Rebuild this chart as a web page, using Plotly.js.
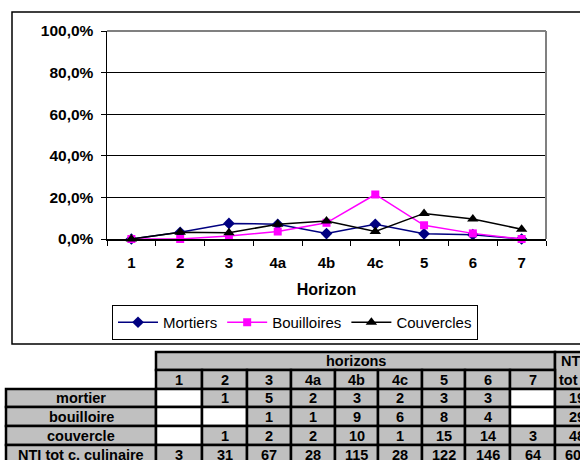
<!DOCTYPE html>
<html>
<head>
<meta charset="utf-8">
<script src="https://cdn.plot.ly/plotly-3.0.1.min.js"></script>
<style>html,body{margin:0;padding:0;background:#fff;}#chart{width:580px;height:460px;}</style>
</head>
<body>
<div id="chart"></div>
<script>
// ---- data ----
const categories = ['1', '2', '3', '4a', '4b', '4c', '5', '6', '7'];
const mortiersPct = [0, 0.032, 0.075, 0.071, 0.026, 0.071, 0.025, 0.021, 0];
const bouilloiresPct = [0, 0, 0.015, 0.036, 0.078, 0.214, 0.066, 0.027, 0];
const couverclesPct = [0, 0.032, 0.030, 0.071, 0.087, 0.036, 0.123, 0.096, 0.047];
const seriesNames = ['Mortiers', 'Bouilloires', 'Couvercles'];

const tableGroupHeader = 'horizons';
const tableTotalHeader = ['NTI', 'tot'];
const rowLabels = ['mortier', 'bouilloire', 'couvercle', 'NTI tot c. culinaire'];
const mortierCounts = [null, 1, 5, 2, 3, 2, 3, 3, null];
const bouilloireCounts = [null, null, 1, 1, 9, 6, 8, 4, null];
const couvercleCounts = [null, 1, 2, 2, 10, 1, 15, 14, 3];
const ntiCounts = [3, 31, 67, 28, 115, 28, 122, 146, 64];
const rowTotals = [19, 29, 48, 604];

// ---- geometry helpers (pixel -> paper) ----
const L = 107, R = 546, T = 31, B = 239;
const W = R - L, H = B - T;
const px = x => (x - L) / W;
const py = y => (B - y) / H;

const FONT = 'Liberation Sans, Arial, sans-serif';
const GREY = '#c0c0c0';

const traces = [
  {x: categories, y: mortiersPct, name: seriesNames[0], type: 'scatter', mode: 'lines+markers',
   line: {color: '#000080', width: 1.5}, marker: {symbol: 'diamond', size: 9, color: '#000080'}, cliponaxis: false},
  {x: categories, y: bouilloiresPct, name: seriesNames[1], type: 'scatter', mode: 'lines+markers',
   line: {color: '#ff00ff', width: 1.5}, marker: {symbol: 'square', size: 8, color: '#ff00ff'}, cliponaxis: false},
  {x: categories, y: couverclesPct, name: seriesNames[2], type: 'scatter', mode: 'lines+markers',
   line: {color: '#000000', width: 1.5}, marker: {symbol: 'triangle-up', size: 10, color: '#000000'}, cliponaxis: false}
];

// ---- table construction ----
const colEdges = [156, 202, 247, 291, 335, 378, 422, 465, 510, 555, 610];
const rowEdges = [352, 370, 389, 407, 426, 445, 464];
const labelLeft = 6;
const shapes = [];
const annotations = [];

function cell(x0, x1, y0, y1, fill) {
  shapes.push({type: 'rect', xref: 'paper', yref: 'paper', layer: 'above',
    x0: px(x0), x1: px(x1), y0: py(y1), y1: py(y0),
    fillcolor: fill, line: {color: '#000', width: 2.5}});
}
function text(str, x, y, anchor) {
  annotations.push({xref: 'paper', yref: 'paper', x: px(x), y: py(y), text: str, showarrow: false,
    xanchor: anchor || 'center', yanchor: 'middle',
    font: {family: FONT, size: 14.5, color: '#000', weight: 'bold'}});
}

// header row 1
cell(colEdges[0], colEdges[9], rowEdges[0], rowEdges[1], GREY);
text(tableGroupHeader, (colEdges[0] + colEdges[9]) / 2, (rowEdges[0] + rowEdges[1]) / 2);
// total column header (merged)
cell(colEdges[9], colEdges[10], rowEdges[0], rowEdges[2], GREY);
text(tableTotalHeader[0], 559, (rowEdges[0] + rowEdges[1]) / 2, 'left');
text(tableTotalHeader[1], 557, (rowEdges[1] + rowEdges[2]) / 2, 'left');
// header row 2: categories
categories.forEach((c, i) => {
  cell(colEdges[i], colEdges[i + 1], rowEdges[1], rowEdges[2], GREY);
  text(c, (colEdges[i] + colEdges[i + 1]) / 2, (rowEdges[1] + rowEdges[2]) / 2);
});
// data rows
const tableRows = [mortierCounts, bouilloireCounts, couvercleCounts, ntiCounts];
tableRows.forEach((vals, r) => {
  const y0 = rowEdges[r + 2], y1 = rowEdges[r + 3], yc = (y0 + y1) / 2;
  cell(labelLeft, colEdges[0], y0, y1, GREY);
  text(rowLabels[r], (labelLeft + colEdges[0]) / 2, yc);
  vals.forEach((v, i) => {
    cell(colEdges[i], colEdges[i + 1], y0, y1, v === null ? '#ffffff' : GREY);
    if (v !== null) text(String(v), (colEdges[i] + colEdges[i + 1]) / 2, yc);
  });
  cell(colEdges[9], colEdges[10], y0, y1, GREY);
  text(String(rowTotals[r]), 577, yc);
});

// chart outer border
shapes.push({type: 'rect', xref: 'paper', yref: 'paper', layer: 'above',
  x0: px(12), x1: px(640), y0: py(344), y1: py(12), line: {color: '#000', width: 1.5}});
// plot area grey top/right border
shapes.push({type: 'line', xref: 'paper', yref: 'paper', layer: 'above',
  x0: 0, x1: 1, y0: 1, y1: 1, line: {color: '#808080', width: 2}});
shapes.push({type: 'line', xref: 'paper', yref: 'paper', layer: 'above',
  x0: 1, x1: 1, y0: 0, y1: 1, line: {color: '#808080', width: 2}});

const layout = {
  width: 580, height: 460,
  margin: {l: L, r: 580 - R, t: T, b: 460 - B, pad: 0},
  paper_bgcolor: '#fff', plot_bgcolor: '#fff',
  separators: ', ',
  showlegend: true,
  legend: {orientation: 'h', x: px(112), y: py(305), xanchor: 'left', yanchor: 'top',
    bordercolor: '#000', borderwidth: 1, bgcolor: '#fff',
    font: {family: FONT, size: 15, color: '#000'}, itemwidth: 40, tracegroupgap: 0},
  xaxis: {type: 'category', range: [-0.5, 8.5], fixedrange: true,
    showline: true, linecolor: '#000', linewidth: 1.5,
    ticks: 'outside', tickson: 'boundaries', ticklen: 5, tickcolor: '#000', tickwidth: 1,
    showgrid: false, zeroline: false, ticklabelstandoff: 9,
    tickfont: {family: FONT, size: 15, color: '#000', weight: 'bold'},
    title: {text: 'Horizon', standoff: 14, font: {family: FONT, size: 16, color: '#000', weight: 'bold'}},
    automargin: false},
  yaxis: {range: [0, 1], dtick: 0.2, tick0: 0, tickformat: '.1%', fixedrange: true,
    showline: true, linecolor: '#000', linewidth: 1.5,
    ticks: 'outside', ticklen: 5, tickcolor: '#000', tickwidth: 1,
    showgrid: true, gridcolor: '#000', gridwidth: 1, zeroline: false, ticklabelstandoff: 4,
    tickfont: {family: FONT, size: 15.5, color: '#000', weight: 'bold'},
    automargin: false},
  shapes: shapes,
  annotations: annotations
};

Plotly.newPlot('chart', traces, layout, {displayModeBar: false, staticPlot: true});
</script>
</body>
</html>
